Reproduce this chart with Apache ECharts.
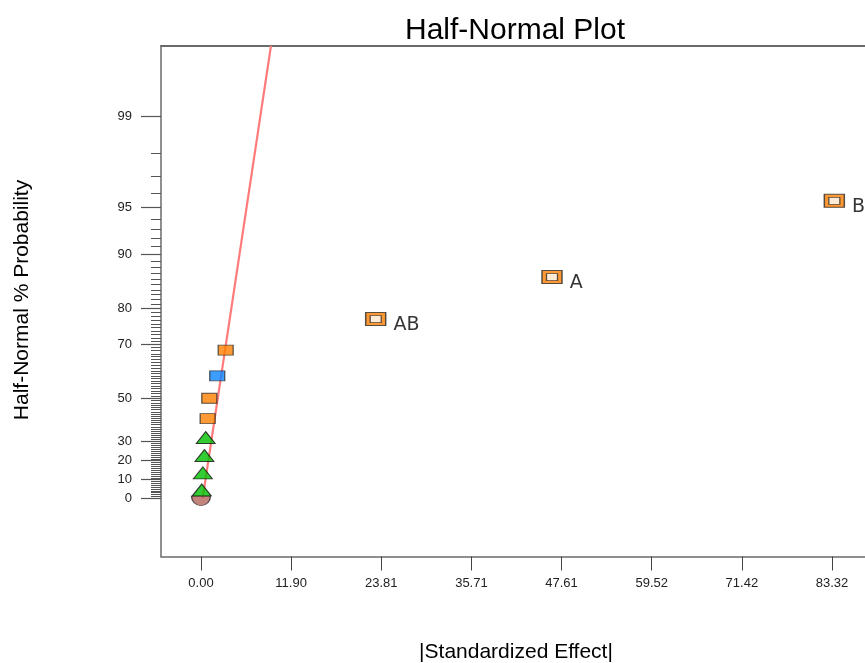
<!DOCTYPE html>
<html>
<head>
<meta charset="utf-8">
<title>Half-Normal Plot</title>
<script src="https://cdn.jsdelivr.net/npm/echarts@6/dist/echarts.min.js"></script>
<style>
  html, body { margin: 0; padding: 0; background: #ffffff; }
  #chart { width: 865px; height: 663px; }
</style>
</head>
<body>
<div id="chart"></div>
<script>
// |Standardized Effect| tick labels
const effectTicks = [0.00, 11.90, 23.81, 35.71, 47.61, 59.52, 71.42, 83.32];
// Half-normal % probability tick labels (major) and the per-percent minor ticks
const probMajor = [0, 10, 20, 30, 50, 70, 80, 90, 95, 99];
const probMinor = [];
for (let p = 1; p <= 98; p++) if (probMajor.indexOf(p) < 0) probMinor.push(p);

// Origin marker
const originEffect = [0.00];
const originProb = [0.0];
// Error estimates (green triangles)
const errorEffect = [0.10, 0.25, 0.45, 0.62];
const errorProb = [4.5, 13.6, 22.7, 31.8];
// Small positive effects (orange)
const positiveEffect = [0.88, 1.10, 3.26];
const positiveProb = [40.9, 50.0, 68.2];
// Small negative effect (blue)
const negativeEffect = [2.15];
const negativeProb = [59.1];
// Selected model terms
const termNames = ['AB', 'A', 'B'];
const termEffect = [23.07, 46.35, 83.63];
const termProb = [77.3, 86.4, 95.5];
// Reference line through the error estimates
const fitEffect = [0.22, 9.24];
const fitProb = [0.0, 99.77];

// Inverse standard normal CDF (Acklam's rational approximation)
function invNorm(p) {
  const a = [-3.969683028665376e+01, 2.209460984245205e+02, -2.759285104469687e+02,
             1.383577518672690e+02, -3.066479806614716e+01, 2.506628277459239e+00];
  const b = [-5.447609879822406e+01, 1.615858368580409e+02, -1.556989798598866e+02,
             6.680131188771972e+01, -1.328068155288572e+01];
  const c = [-7.784894002430293e-03, -3.223964580411365e-01, -2.400758277161838e+00,
             -2.549732539343734e+00, 4.374664141464968e+00, 2.938163982698783e+00];
  const d = [7.784695709041462e-03, 3.224671290700398e-01, 2.445134137142996e+00,
             3.754408661907416e+00];
  const pl = 0.02425, ph = 1 - pl;
  let q, r;
  if (p < pl) {
    q = Math.sqrt(-2 * Math.log(p));
    return (((((c[0]*q+c[1])*q+c[2])*q+c[3])*q+c[4])*q+c[5]) /
           ((((d[0]*q+d[1])*q+d[2])*q+d[3])*q+1);
  }
  if (p <= ph) {
    q = p - 0.5; r = q * q;
    return (((((a[0]*r+a[1])*r+a[2])*r+a[3])*r+a[4])*r+a[5])*q /
           (((((b[0]*r+b[1])*r+b[2])*r+b[3])*r+b[4])*r+1);
  }
  q = Math.sqrt(-2 * Math.log(1 - p));
  return -(((((c[0]*q+c[1])*q+c[2])*q+c[3])*q+c[4])*q+c[5]) /
          ((((d[0]*q+d[1])*q+d[2])*q+d[3])*q+1);
}
// Half-normal probability scale: percent -> quantile
const hn = pct => invNorm(0.5 + pct / 200);

const pairs = (xs, ps) => xs.map((x, i) => [x, hn(ps[i])]);

const majorZ = probMajor.map(hn);
const minorZ = probMinor.map(hn);

const tickFont = "'Liberation Sans', Arial, sans-serif";
const axisColor = '#6a6a6a';
const border = '#2b2b2b';
const Z_MIN = -0.392, Z_MAX = 3.048;

const chart = echarts.init(document.getElementById('chart'), null, { renderer: 'canvas' });

chart.setOption({
  animation: false,
  backgroundColor: '#ffffff',
  title: {
    text: 'Half-Normal Plot',
    left: 510,
    textAlign: 'center',
    top: 11,
    textStyle: { fontFamily: "'Liberation Sans', Arial, sans-serif", fontSize: 30, fontWeight: 'normal', color: '#000' }
  },
  grid: {
    left: 161, top: 46, right: 0, bottom: 106.5,
    show: false
  },
  xAxis: [
    {
      type: 'value', position: 'bottom',
      min: -5.28, max: 87.68,
      axisLine: { show: true, onZero: false, lineStyle: { color: axisColor, width: 1.5 } },
      axisTick: { show: true, inside: false, length: 14, customValues: effectTicks, lineStyle: { color: '#444', width: 1 } },
      axisLabel: {
        show: true, margin: 20, customValues: effectTicks,
        formatter: v => v.toFixed(2),
        fontFamily: tickFont, fontSize: 13, color: '#222'
      },
      splitLine: { show: false }
    },
    {
      // top frame line only
      type: 'value', position: 'top',
      min: -5.28, max: 87.68,
      axisLine: { show: true, onZero: false, lineStyle: { color: axisColor, width: 2 } },
      axisTick: { show: false },
      axisLabel: { show: false },
      splitLine: { show: false }
    }
  ],
  yAxis: [
    {
      type: 'value', position: 'left',
      min: Z_MIN, max: Z_MAX,
      axisLine: { show: true, onZero: false, lineStyle: { color: axisColor, width: 1.5 } },
      axisTick: { show: true, inside: false, length: 20, customValues: majorZ, lineStyle: { color: '#555', width: 1.2 } },
      axisLabel: {
        show: true, margin: 29, customValues: majorZ,
        formatter: v => {
          let best = 0;
          majorZ.forEach((z, i) => { if (Math.abs(z - v) < Math.abs(majorZ[best] - v)) best = i; });
          return String(probMajor[best]);
        },
        fontFamily: tickFont, fontSize: 13, color: '#222'
      },
      splitLine: { show: false }
    },
    {
      // minor ticks, one per percent
      type: 'value', position: 'left', offset: 0,
      min: Z_MIN, max: Z_MAX,
      axisLine: { show: false, onZero: false },
      axisTick: { show: true, inside: false, length: 10, customValues: minorZ, lineStyle: { color: '#555', width: 1 } },
      axisLabel: { show: false },
      splitLine: { show: false }
    }
  ],
  graphic: [
    {
      type: 'text', position: [22, 300], rotation: Math.PI / 2,
      style: {
        text: 'Half-Normal % Probability', x: 0, y: 0,
        font: "21px 'Liberation Sans', Arial, sans-serif", fill: '#000',
        align: 'center', verticalAlign: 'middle'
      }
    },
    {
      type: 'text', position: [516, 652],
      style: {
        text: '|Standardized Effect|', x: 0, y: 0,
        font: "21px 'Liberation Sans', Arial, sans-serif", fill: '#000',
        align: 'center', verticalAlign: 'middle'
      }
    }
  ],
  series: [
    {
      name: 'fit', type: 'line', xAxisIndex: 0, yAxisIndex: 0,
      data: pairs(fitEffect, fitProb),
      symbol: 'none', clip: true,
      lineStyle: { color: '#ff7b7b', width: 2.2 },
      z: 2
    },
    {
      name: 'origin', type: 'scatter', xAxisIndex: 0, yAxisIndex: 0,
      data: pairs(originEffect, originProb),
      symbol: 'path://M0,0 L20,0 A10,10 0 0 1 0,0 Z',
      symbolSize: [19, 9.5], symbolOffset: [0, 2.5],
      itemStyle: { color: '#b5645d', borderColor: border, borderWidth: 1 },
      z: 3
    },
    {
      name: 'error', type: 'scatter', xAxisIndex: 0, yAxisIndex: 0,
      data: pairs(errorEffect, errorProb),
      symbol: 'triangle', symbolSize: [19, 12],
      itemStyle: { color: '#00c000', borderColor: '#111', borderWidth: 1 },
      z: 4
    },
    {
      name: 'positive', type: 'scatter', xAxisIndex: 0, yAxisIndex: 0,
      data: pairs(positiveEffect, positiveProb),
      symbol: 'rect', symbolSize: [15, 10],
      itemStyle: { color: '#ff8000', borderColor: border, borderWidth: 1 },
      z: 5
    },
    {
      name: 'negative', type: 'scatter', xAxisIndex: 0, yAxisIndex: 0,
      data: pairs(negativeEffect, negativeProb),
      symbol: 'rect', symbolSize: [15, 10],
      itemStyle: { color: '#0a84ff', borderColor: border, borderWidth: 1 },
      z: 5
    },
    {
      name: 'terms', type: 'scatter', xAxisIndex: 0, yAxisIndex: 0,
      data: termEffect.map((x, i) => ({ name: termNames[i], value: [x, hn(termProb[i])] })),
      symbol: 'rect', symbolSize: [20, 13],
      itemStyle: { color: '#ff8000', borderColor: border, borderWidth: 1.2 },
      label: {
        show: true, position: 'right', distance: 7, offset: [0, 6],
        formatter: p => p.name,
        fontFamily: "'DejaVu Sans', Verdana, sans-serif", fontSize: 19, color: '#000'
      },
      z: 5
    },
    {
      name: 'termsInner', type: 'scatter', xAxisIndex: 0, yAxisIndex: 0,
      data: pairs(termEffect, termProb),
      symbol: 'rect', symbolSize: [11, 7],
      itemStyle: { color: '#ffffff', borderColor: border, borderWidth: 1 },
      z: 6
    }
  ]
});
</script>
</body>
</html>
